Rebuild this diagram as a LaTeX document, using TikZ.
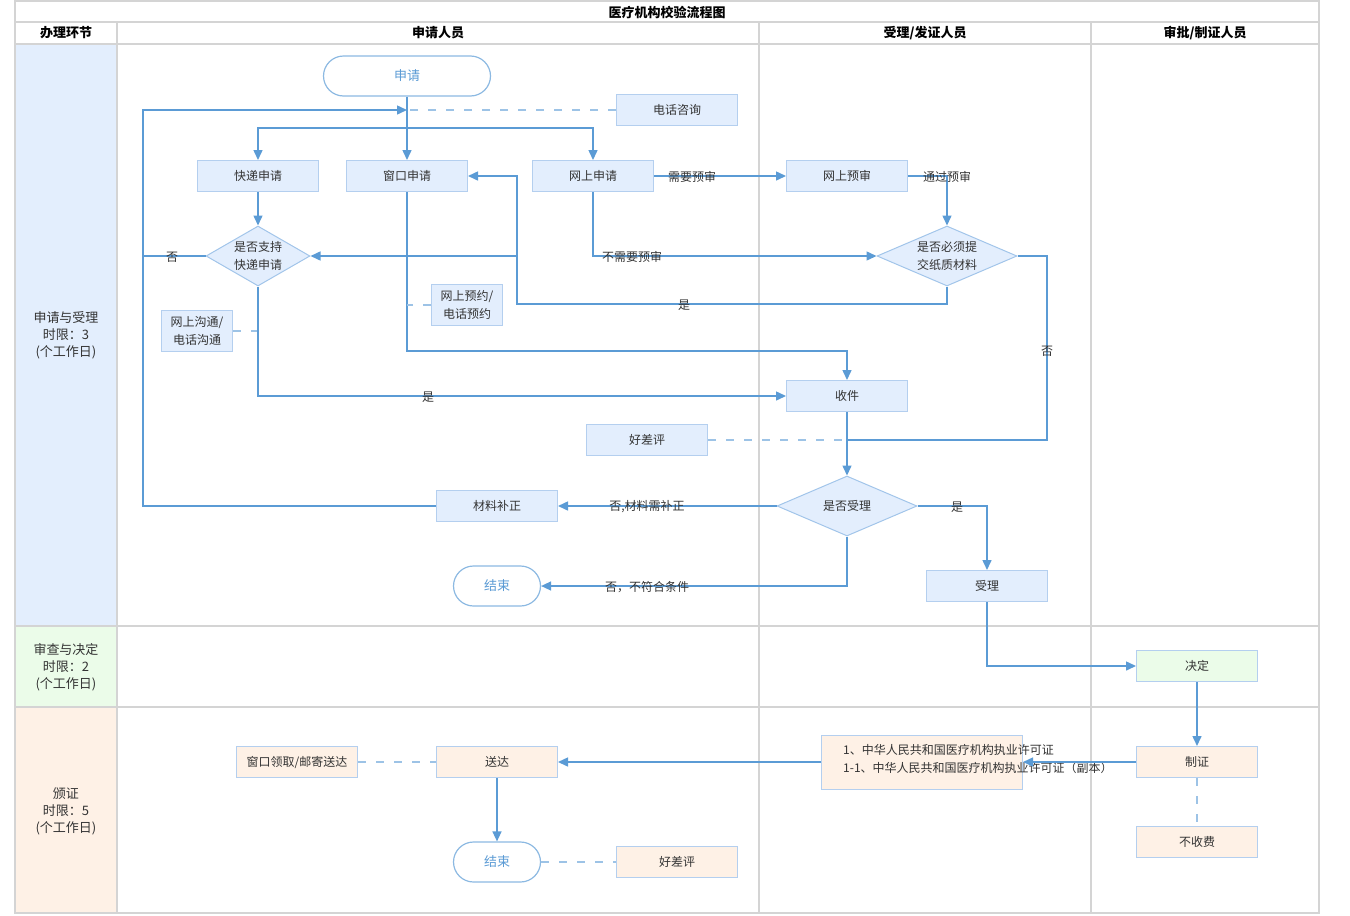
\documentclass[tikz,border=0pt]{standalone}
\usepackage{fontspec}
\setmainfont{Noto Sans CJK SC}
\usetikzlibrary{shapes.geometric,arrows.meta}
\definecolor{ln}{RGB}{91,155,213}
\definecolor{dl}{RGB}{157,195,230}
\definecolor{bd}{RGB}{180,207,239}
\definecolor{fb}{RGB}{227,238,253}
\definecolor{fo}{RGB}{254,241,230}
\definecolor{fg}{RGB}{235,252,233}
\definecolor{gridc}{RGB}{212,212,212}
\definecolor{tx}{RGB}{51,51,51}
\begin{document}
\begin{tikzpicture}[x=1pt,y=-1pt,
  box/.style={draw=bd, fill=fb, line width=1pt, minimum width=121pt, minimum height=31pt, inner sep=0pt, font=\fontsize{12}{14}\selectfont, text=tx, align=center},
  obox/.style={box, fill=fo},
  gbox/.style={box, fill=fg},
  sbox/.style={box, minimum width=71pt, minimum height=41pt, font=\fontsize{12}{18}\selectfont},
  term/.style={draw=ln!70, fill=white, line width=1.2pt, rounded corners=20pt, minimum height=40pt, inner sep=0pt, text=ln, font=\fontsize{13}{15}\selectfont},
  dia/.style={diamond, draw=bd!80!ln, fill=fb, line width=1pt, inner sep=0pt},
  dtxt/.style={font=\fontsize{12}{18}\selectfont, text=tx, align=center, inner sep=0pt},
  flow/.style={draw=ln, line width=1.5pt, -{Triangle[length=10pt,width=9pt]}},
  plain/.style={draw=ln, line width=1.5pt},
  dsh/.style={draw=dl, line width=1.4pt, dash pattern=on 8pt off 10pt},
  elab/.style={font=\fontsize{12}{14}\selectfont, text=tx, inner sep=0pt},
  hdr/.style={font=\fontsize{13}{15}\selectfont\bfseries, text=black, inner sep=0pt},
  ph/.style={font=\fontsize{13}{17}\selectfont, text=tx, align=center, inner sep=0pt},
  gl/.style={draw=gridc, line width=1.6pt}
]
\useasboundingbox (0,0) rectangle (1350,916);
% phase fills
\fill[fb] (15,44) rectangle (117,626);
\fill[fg] (15,626) rectangle (117,707);
\fill[fo] (15,707) rectangle (117,913);
% grid
\draw[gl] (15,1) rectangle (1319,913);
\draw[gl] (15,22) -- (1319,22);
\draw[gl] (15,44) -- (1319,44);
\draw[gl] (15,626) -- (1319,626);
\draw[gl] (15,707) -- (1319,707);
\draw[gl] (117,22) -- (117,913);
\draw[gl] (759,22) -- (759,913);
\draw[gl] (1091,22) -- (1091,913);
% headers
\node[hdr] (title) at (667,12) {医疗机构校验流程图};
\node[hdr] (h0) at (66,33) {办理环节};
\node[hdr] (h1) at (438,33) {申请人员};
\node[hdr] (h2) at (925,33) {受理/发证人员};
\node[hdr] (h3) at (1205,33) {审批/制证人员};
\node[ph] (p1) at (66,335) {申请与受理\\时限：3\\(个工作日)};
\node[ph] (p2) at (66,667) {审查与决定\\时限：2\\(个工作日)};
\node[ph] (p3) at (66,811) {颁证\\时限：5\\(个工作日)};
% nodes
\node[term, minimum width=167pt] (start) at (407,76) {申请};
\node[box] (phone) at (677,110) {电话咨询};
\node[box] (exp) at (258,176) {快递申请};
\node[box] (win) at (407,176) {窗口申请};
\node[box] (online) at (593,176) {网上申请};
\node[box] (pre) at (847,176) {网上预审};
\node[dia, minimum width=104pt, minimum height=60pt] (d1) at (258,256) {};
\node[dtxt] (d1t) at (d1) {是否支持\\快递申请};
\node[dia, minimum width=140pt, minimum height=60pt] (d2) at (947,256) {};
\node[dtxt] (d2t) at (d2) {是否必须提\\交纸质材料};
\node[sbox] (appt) at (467,305) {网上预约/\\电话预约};
\node[sbox] (comm) at (197,331) {网上沟通/\\电话沟通};
\node[box] (recv) at (847,396) {收件};
\node[box] (eval1) at (647,440) {好差评};
\node[dia, minimum width=140pt, minimum height=60pt] (d3) at (847,506) {};
\node[dtxt] (d3t) at (d3) {是否受理};
\node[box] (fix) at (497,506) {材料补正};
\node[term, minimum width=87pt] (end1) at (497,586) {结束};
\node[box] (acc) at (987,586) {受理};
\node[gbox] (dec) at (1197,666) {决定};
\node[obox] (pick) at (297,762) {窗口领取/邮寄送达};
\node[obox] (deliv) at (497,762) {送达};
\node[obox, minimum width=201pt, minimum height=54pt] (cert) at (922,762) {};
\node[dtxt, anchor=west, align=left] (certt) at (843,759) {1、中华人民共和国医疗机构执业许可证\\1-1、中华人民共和国医疗机构执业许可证（副本）};
\node[obox] (make) at (1197,762) {制证};
\node[obox] (free) at (1197,842) {不收费};
\node[term, minimum width=87pt] (end2) at (497,862) {结束};
\node[obox] (eval2) at (677,862) {好差评};
% connectors
\coordinate (j110) at (407,110);
\coordinate (j128) at (407,128);
\coordinate (j256) at (517,256);
\coordinate (j440) at (847,440);
\draw[flow] (start) -- (win);
\draw[flow] (fix.west) -- (143,506) -- (143,110) -- (j110);
\draw[plain] (d1.west) -- (143,256);
\draw[dsh] (phone.west) -- (j110);
\draw[flow] (j128) -| (exp.north);
\draw[flow] (j128) -| (online.north);
\draw[flow] (exp) -- (d1);
\draw[flow] (online) -- (pre);
\draw[flow] (pre.east) -| (d2.north);
\draw[flow] (online.south) |- (d2.west);
\draw[flow] (d2.south) -- (947,304) -- (517,304) -- (517,176) -- (win.east);
\draw[flow] (j256) -- (d1.east);
\draw[flow] (win.south) -- (407,351) -| (recv.north);
\draw[dsh] (appt.west) -- (407,305);
\draw[dsh] (comm.east) -- (258,331);
\draw[flow] (d1.south) |- (recv.west);
\draw[plain] (d2.east) -- (1047,256) -- (1047,440) -- (j440);
\draw[dsh] (eval1.east) -- (j440);
\draw[flow] (recv) -- (d3);
\draw[flow] (d3.west) -- (fix.east);
\draw[flow] (d3.east) -| (acc.north);
\draw[flow] (d3.south) |- (end1.east);
\draw[flow] (acc.south) |- (dec.west);
\draw[flow] (dec) -- (make);
\draw[flow] (make.west) -- (cert.east);
\draw[flow] (cert.west) -- (deliv.east);
\draw[dsh] (pick.east) -- (deliv.west);
\draw[flow] (deliv) -- (end2);
\draw[dsh] (end2.east) -- (eval2.west);
\draw[dsh] (make.south) -- (free.north);
% edge labels
\node[elab] (l1) at (172,257) {否};
\node[elab] (l2) at (692,177) {需要预审};
\node[elab] (l3) at (947,177) {通过预审};
\node[elab] (l4) at (632,257) {不需要预审};
\node[elab] (l5) at (684,305) {是};
\node[elab] (l6) at (428,397) {是};
\node[elab] (l7) at (1047,351) {否};
\node[elab] (l8) at (647,507) {否,材料需补正};
\node[elab] (l9) at (957,507) {是};
\node[elab] (l10) at (647,587) {否，不符合条件};
\end{tikzpicture}
\end{document}
